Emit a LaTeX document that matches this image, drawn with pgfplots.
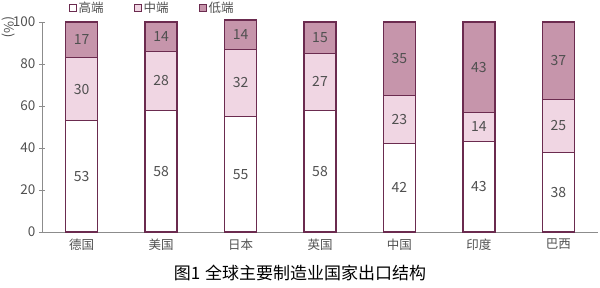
\documentclass[border=0pt]{standalone}
\usepackage{pgfplots}
\pgfplotsset{compat=1.18}
\usepackage{fontspec}
\setmainfont{Noto Sans CJK SC}
\definecolor{edge}{HTML}{6B2B4F}
\definecolor{mid}{HTML}{F0D6E3}
\definecolor{low}{HTML}{C695AB}
\definecolor{axisgray}{HTML}{8C8C8C}
\definecolor{txt}{HTML}{505050}
\begin{document}
\begin{tikzpicture}[x=1pt,y=1pt]
\path[use as bounding box] (-42,-56) rectangle (558,232);
\begin{axis}[
  at={(0,0)}, anchor=south west,
  scale only axis, width=556pt, height=210pt,
  ybar stacked, bar width=32pt, clip=false,
  xmin=-0.5, xmax=6.5, ymin=0, ymax=100,
  axis x line*=bottom, axis y line*=left,
  axis line style={axisgray, line width=0.8pt},
  every tick/.style={axisgray, line width=0.8pt},
  tick align=center, major tick length=6pt,
  xtick={0,...,6},
  xticklabels={德国,美国,日本,英国,中国,印度,巴西},
  x tick style={draw=none},
  extra x ticks={0.5,1.5,2.5,3.5,4.5,5.5,6.5},
  extra x tick labels={},
  extra x tick style={tick align=inside, major tick length=5pt, tick style={draw=axisgray, line width=0.8pt}},
  ytick={0,20,...,100},
  yticklabel style={font=\fontsize{13.5}{13.5}\selectfont, text=txt},
  xticklabel style={font=\fontsize{12.5}{12.5}\selectfont, text=txt},
  /pgf/number format/assume math mode=true,
  ylabel={(\%)},
  ylabel style={at={(axis description cs:-0.061,0.976)}, anchor=center, rotate=180, font=\fontsize{13}{13}\selectfont, text=txt},
  xlabel={图1\hspace{5pt}全球主要制造业国家出口结构},
  xlabel style={at={(axis description cs:0.464,-0.195)}, anchor=center, font=\fontsize{17}{17}\selectfont, text=black},
  nodes near coords,
  point meta=explicit symbolic,
  every node near coord/.append style={anchor=center, font=\fontsize{14}{14}\selectfont, text=txt},
  legend style={draw=none, fill=none, at={(axis description cs:0.198,1.067)}, anchor=center,
     legend columns=3, font=\fontsize{12.5}{12.5}\selectfont, text=txt,
     /tikz/every even column/.append style={column sep=28pt}},
  legend cell align=left,
  legend image code/.code={\draw[#1, line width=1pt] (0pt,-3.5pt) rectangle (7pt,3.5pt);},
]
\addplot[fill=white, draw=edge, line width=1.3pt] coordinates {(0,53)[53] (1,58)[58] (2,55)[55] (3,58)[58] (4,42)[42] (5,43)[43] (6,38)[38]};
\addplot[fill=mid, draw=edge, line width=1.3pt] coordinates {(0,30)[30] (1,28)[28] (2,32)[32] (3,27)[27] (4,23)[23] (5,14)[14] (6,25)[25]};
\addplot[fill=low, draw=edge, line width=1.3pt] coordinates {(0,17)[17] (1,14)[14] (2,14)[14] (3,15)[15] (4,35)[35] (5,43)[43] (6,37)[37]};
\legend{高端,中端,低端}
\end{axis}
\end{tikzpicture}
\end{document}
